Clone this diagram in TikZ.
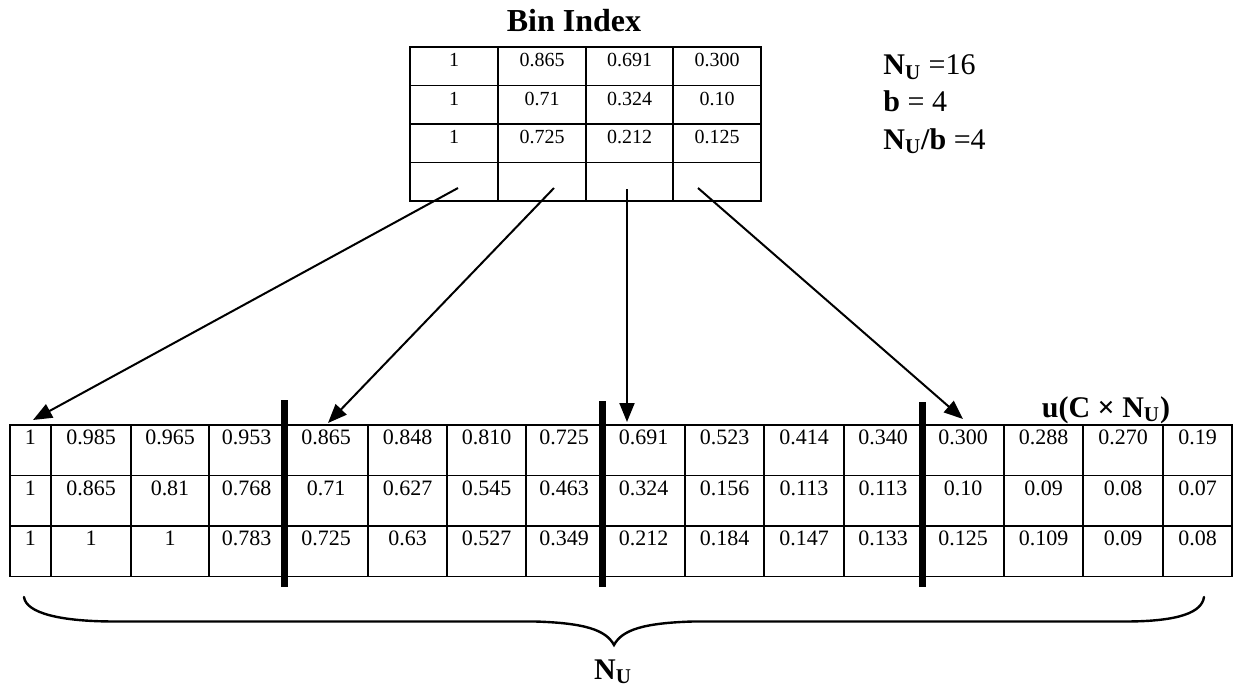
\documentclass[tikz,border=0pt]{standalone}
\usepackage{fontspec}
\setmainfont{Liberation Serif}
\usetikzlibrary{arrows.meta}

\begin{document}
\begin{tikzpicture}[x=0.5pt, y=-0.5pt,
  cellbox/.style={draw, line width=0.8pt, inner sep=0pt, outer sep=0pt, anchor=center},
  topcell/.style={cellbox, font=\fontsize{10}{12}\selectfont,
    minimum height=19.25pt, text height=9.75pt, text depth=9.5pt},
  botcell/.style={cellbox, font=\fontsize{11}{13}\selectfont,
    minimum height=25.25pt, text height=9.75pt, text depth=15.5pt},
  divider/.style={line width=3.5pt},
  conn/.style={line width=1pt, -{Triangle[length=9.5pt,width=7.5pt]}},
  brace/.style={line width=1.2pt, line cap=round},
  heading/.style={font=\bfseries\fontsize{15}{18}\selectfont},
  param/.style={font=\fontsize{15}{18}\selectfont, anchor=base west, inner sep=0pt},
]
\useasboundingbox (0,0) rectangle (1239,685);

% ---- bin index table ----
\node[font=\bfseries\fontsize{16}{19}\selectfont, anchor=base] (title) at (574,32) {Bin Index};
\foreach \row [count=\ri] in {{1,0.865,0.691,0.300},{1,0.71,0.324,0.10},{1,0.725,0.212,0.125},{{},{},{},{}}} {
  \foreach \val [count=\ci] in \row {
    \pgfmathsetmacro\xa{{410,498,586,673,761}[\ci-1]}
    \pgfmathsetmacro\xb{{410,498,586,673,761}[\ci]}
    \pgfmathsetmacro\cellw{(\xb-\xa)/2}
    \pgfmathsetmacro\xm{(\xa+\xb)/2}
    \pgfmathsetmacro\ym{47+(\ri-0.5)*38.5}
    \node[topcell, minimum width=\cellw pt] (t-\ri-\ci) at (\xm,\ym) {\val};
  }
}

% ---- parameters ----
\node[param] (p1) at (883,75) {\textbf{N}\textsubscript{\textbf{U}} =16};
\node[param] (p2) at (883,112) {\textbf{b} = 4};
\node[param] (p3) at (883,149) {\textbf{N}\textsubscript{\textbf{U}}\textbf{/b} =4};

% ---- u(C x N_U) table ----
\node[font=\bfseries\fontsize{15}{18}\selectfont, anchor=base, inner sep=0pt] (ulabel) at (1106,417)
  {u(C × N\textsubscript{U})};
\foreach \row [count=\ri] in {
  {1,0.985,0.965,0.953,0.865,0.848,0.810,0.725,0.691,0.523,0.414,0.340,0.300,0.288,0.270,0.19},
  {1,0.865,0.81,0.768,0.71,0.627,0.545,0.463,0.324,0.156,0.113,0.113,0.10,0.09,0.08,0.07},
  {1,1,1,0.783,0.725,0.63,0.527,0.349,0.212,0.184,0.147,0.133,0.125,0.109,0.09,0.08}} {
  \foreach \val [count=\ci] in \row {
    \pgfmathsetmacro\xa{{10,51,131,209,284,368,447,526,602,685,764,844,922,1004,1083,1163,1232}[\ci-1]}
    \pgfmathsetmacro\xb{{10,51,131,209,284,368,447,526,602,685,764,844,922,1004,1083,1163,1232}[\ci]}
    \pgfmathsetmacro\cellw{(\xb-\xa)/2}
    \pgfmathsetmacro\xm{(\xa+\xb)/2}
    \pgfmathsetmacro\ym{425+(\ri-0.5)*50.5}
    \node[botcell, minimum width=\cellw pt] (b-\ri-\ci) at (\xm,\ym) {\val};
  }
}

% bin boundaries
\draw[divider] (284,400) -- (284,587);
\draw[divider] (602,401) -- (602,587);
\draw[divider] (922,402) -- (922,587);

% ---- pointers from bin index to bin starts ----
\coordinate (s1) at (458,188);
\coordinate (s2) at (554,188);
\coordinate (s3) at (627,189);
\coordinate (s4) at (698,188);
\coordinate (e1) at (33,420);
\coordinate (e2) at (328,423);
\coordinate (e3) at (627,422);
\coordinate (e4) at (963,419);
\draw[conn] (s1) -- (e1);
\draw[conn] (s2) -- (e2);
\draw[conn] (s3) -- (e3);
\draw[conn] (s4) -- (e4);

% ---- brace under the table ----
\draw[brace] (24,597) .. controls (26,613) and (60,621.5) .. (115,621.5) -- (535,621.5)
  .. controls (585,623) and (606,630) .. (614,645)
  .. controls (622,630) and (643,623) .. (693,621.5) -- (1125,621.5)
  .. controls (1180,621.5) and (1202,612) .. (1204,597);
\node[heading, anchor=base, inner sep=0pt] (nu) at (613,679) {N\textsubscript{U}};
\end{tikzpicture}
\end{document}
